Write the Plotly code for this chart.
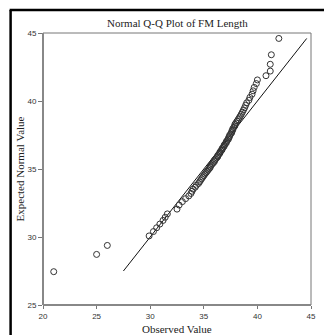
import plotly.graph_objects as go

observed = [21.0, 25.0, 26.0, 29.9, 30.3, 30.6, 30.9, 31.2, 31.4, 31.6,
            32.5, 32.7, 33.0, 33.3, 33.6, 33.8, 33.9, 34.0, 34.2, 34.3,
            34.5, 34.6, 34.7, 34.8, 34.9, 35.0, 35.1, 35.2, 35.3, 35.4,
            35.5, 35.6, 35.6, 35.7, 35.8, 35.9, 36.0, 36.0, 36.1, 36.2,
            36.3, 36.3, 36.4, 36.5, 36.5, 36.6, 36.7, 36.7, 36.8, 36.9,
            36.9, 37.0, 37.1, 37.1, 37.2, 37.3, 37.3, 37.4, 37.4, 37.5,
            37.6, 37.6, 37.7, 37.7, 37.8, 37.9, 37.9, 38.0, 38.1, 38.2,
            38.3, 38.4, 38.5, 38.6, 38.7, 38.8, 38.9, 39.0, 39.2, 39.3,
            39.5, 39.6, 39.7, 39.9, 40.0, 40.8, 41.2, 41.2, 41.3, 42.0]
expected = [27.45, 28.72, 29.38, 30.08, 30.40, 30.68, 30.95, 31.22, 31.45, 31.70,
            32.05, 32.35, 32.60, 32.82, 33.02, 33.20, 33.36, 33.52, 33.66, 33.80,
            33.93, 34.05, 34.17, 34.29, 34.40, 34.51, 34.62, 34.72, 34.82, 34.92,
            35.02, 35.11, 35.20, 35.29, 35.38, 35.47, 35.56, 35.65, 35.73, 35.82,
            35.90, 35.99, 36.07, 36.16, 36.24, 36.33, 36.41, 36.50, 36.58, 36.67,
            36.76, 36.84, 36.93, 37.02, 37.11, 37.20, 37.29, 37.38, 37.47, 37.57,
            37.66, 37.76, 37.86, 37.96, 38.06, 38.17, 38.28, 38.39, 38.51, 38.63,
            38.76, 38.89, 39.03, 39.18, 39.34, 39.50, 39.68, 39.86, 40.05, 40.26,
            40.50, 40.75, 41.00, 41.28, 41.55, 41.86, 42.20, 42.70, 43.40, 44.60]
ref_line = [27.5, 44.6]
tick_vals = [20, 25, 30, 35, 40, 45]
y_tick_vals = [25, 30, 35, 40, 45]

SERIF = "Liberation Serif"

fig = go.Figure()
fig.add_trace(go.Scatter(x=ref_line, y=ref_line, mode="lines",
                         line=dict(color="#111111", width=1), hoverinfo="skip"))
fig.add_trace(go.Scatter(x=observed, y=expected, mode="markers",
                         marker=dict(symbol="circle-open", size=6,
                                     color="#333333", line=dict(width=1))))

fig.update_layout(
    width=324, height=335,
    margin=dict(l=43, r=8, t=33, b=30),
    paper_bgcolor="white", plot_bgcolor="white",
    showlegend=False,
    font=dict(family=SERIF, color="#222222"),
    xaxis=dict(range=[20, 45], tickvals=tick_vals, ticks="outside", ticklen=3,
               tickcolor="#777777", tickfont=dict(family="Liberation Sans", size=8, color="#333333"),
               showgrid=False, zeroline=False, showline=False),
    yaxis=dict(range=[25, 45], tickvals=y_tick_vals, ticks="outside", ticklen=4,
               tickcolor="#777777", tickfont=dict(family="Liberation Sans", size=8, color="#333333"),
               showgrid=False, zeroline=False, showline=False),
)

# plot frame: thick gray left/bottom, thin right/top
fig.add_shape(type="line", xref="paper", yref="paper", x0=0, x1=1, y0=1, y1=1,
              line=dict(color="#777777", width=1))
fig.add_shape(type="line", xref="paper", yref="paper", x0=1, x1=1, y0=0, y1=1,
              line=dict(color="#777777", width=1))
fig.add_shape(type="line", xref="paper", yref="paper", x0=0, x1=0, y0=0, y1=1,
              line=dict(color="#888888", width=2))
fig.add_shape(type="line", xref="paper", yref="paper", x0=0, x1=1, y0=0, y1=0,
              line=dict(color="#888888", width=2))

# outer black border (left and top)
pw, ph = 273, 272
fig.add_shape(type="line", xref="paper", yref="paper",
              x0=(10 - 43) / pw, x1=(10 - 43) / pw, y0=(305 - 10) / ph, y1=(305 - 340) / ph,
              line=dict(color="black", width=2.5))
fig.add_shape(type="line", xref="paper", yref="paper",
              x0=(9 - 43) / pw, x1=(330 - 43) / pw, y0=(305 - 10) / ph, y1=(305 - 10) / ph,
              line=dict(color="black", width=2.5))

fig.add_annotation(text="Normal Q-Q Plot of FM Length", xref="paper", yref="paper",
                   x=0.5, y=(305 - 23) / ph, xanchor="center", yanchor="middle",
                   showarrow=False, font=dict(family=SERIF, size=11, color="#222222"))
fig.add_annotation(text="Observed Value", xref="paper", yref="paper",
                   x=0.5, y=(305 - 329) / ph, xanchor="center", yanchor="middle",
                   showarrow=False, font=dict(family=SERIF, size=11, color="#222222"))
fig.add_annotation(text="Expected Normal Value", xref="paper", yref="paper",
                   x=(20 - 43) / pw, y=(305 - 169) / ph, xanchor="center", yanchor="middle",
                   textangle=-90, showarrow=False, font=dict(family=SERIF, size=11, color="#222222"))

fig.write_html("out.html", config={"displayModeBar": False},
               post_script="document.body.style.margin='0';document.body.style.overflow='hidden';")
